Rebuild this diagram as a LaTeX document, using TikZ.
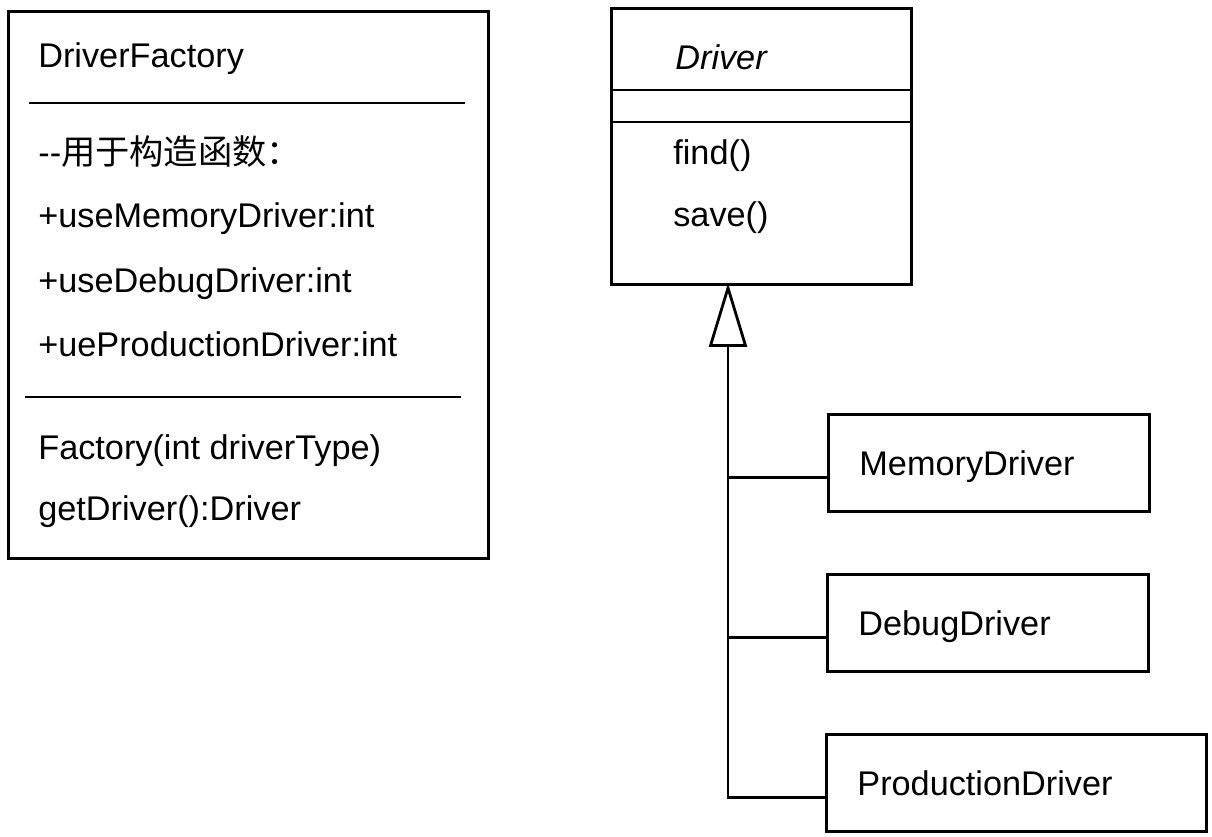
\documentclass[tikz,border=0pt]{standalone}
\usepackage{fontspec}
\setmainfont{Liberation Sans}
\newfontfamily\cjk{Noto Sans CJK SC}
\usetikzlibrary{positioning, arrows.meta}

\tikzset{
  classbox/.style={draw, line width=1.6pt, rectangle, anchor=north west, inner sep=0pt},
  subbox/.style={draw, line width=1.6pt, rectangle, anchor=north west, inner xsep=0.62cm,
    inner ysep=0pt, minimum height=1.94cm, align=left, text width=#1, text depth=0pt,
    font=\fontsize{19.5}{23}\selectfont},
  subbox/.default=5.18cm,
  member/.style={anchor=base west, inner sep=0pt, font=\fontsize{19.5}{23}\selectfont},
  sepline/.style={line width=1.6pt},
  inherit/.style={line width=1.6pt, -{Triangle[open, length=1.28cm, width=0.76cm]}}
}

\begin{document}
\begin{tikzpicture}[x=0.02cm, y=-0.02cm]
  \useasboundingbox (0,0) rectangle (1212,837);

  % factory class
  \node[classbox, minimum width=9.6cm, minimum height=10.94cm] (factory) at (7,10) {};
  \node[member] (factoryname) at (38,68) {DriverFactory};
  \draw[sepline] (29,103) -- (465,103);
  \node[member] (comment) at (38,165) {{-}{-}{\cjk 用于构造函数：}};
  \node[member] (memflag) at (38,228) {+useMemoryDriver:int};
  \node[member] (dbgflag) at (38,293) {+useDebugDriver:int};
  \node[member] (prodflag) at (38,357) {+ueProductionDriver:int};
  \draw[sepline] (25,397) -- (461,397);
  \node[member] (ctor) at (38,459) {Factory(int driverType)};
  \node[member] (getter) at (38,520) {getDriver():Driver};

  % abstract driver
  \node[classbox, minimum width=6cm, minimum height=5.52cm] (driver) at (610,7) {};
  \node[member] (drivername) at (675,70) {\itshape Driver};
  \draw[sepline] (driver.west |- 0,90) -- (driver.east |- 0,90);
  \draw[sepline] (driver.west |- 0,122) -- (driver.east |- 0,122);
  \node[member] (find) at (673,165) {find()};
  \node[member] (save) at (673,227) {save()};

  % subclasses
  \node[subbox] (mem) at (827,413) {MemoryDriver};
  \node[subbox] (dbg) at (826,573) {DebugDriver};
  \node[subbox=6.36cm] (prod) at (825,733) {ProductionDriver};

  \coordinate (apex) at (728,283);
  \coordinate (memport) at ([yshift=-0.3cm]mem.west);
  \coordinate (dbgport) at ([yshift=-0.3cm]dbg.west);
  \coordinate (prodport) at ([yshift=-0.3cm]prod.west);

  \draw[inherit] (prodport) -| (apex);
  \draw[sepline] (memport) -- (memport -| apex);
  \draw[sepline] (dbgport) -- (dbgport -| apex);
\end{tikzpicture}
\end{document}
